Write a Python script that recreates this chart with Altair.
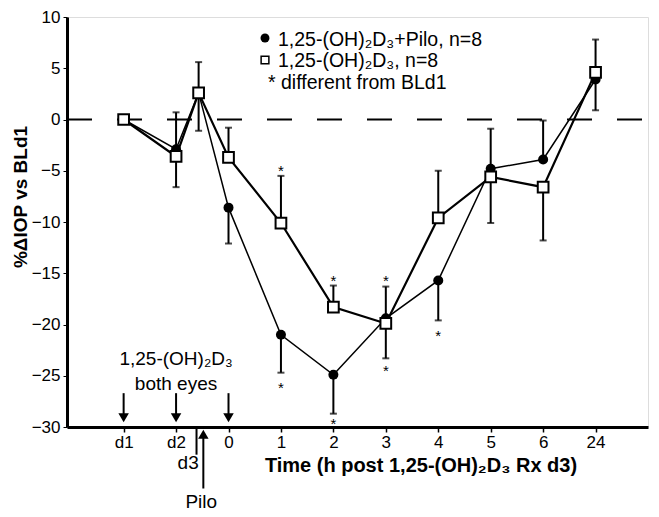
import altair as alt
import pandas as pd

FONT = "Liberation Sans"

# x positions / tick labels
tick_pos = [-2, -1, 0, 1, 2, 3, 4, 5, 6, 7]
tick_text = ["d1", "d2", "0", "1", "2", "3", "4", "5", "6", "24"]

# data points (x position on the time axis)
pt_x = [-2, -1, -0.57, 0, 1, 2, 3, 4, 5, 6, 7]
pilo_y = [0, -2.9, 2.6, -8.6, -21.0, -24.9, -19.4, -15.7, -4.8, -3.9, 3.9]
d3_y = [0, -3.6, 2.6, -3.7, -10.1, -18.3, -19.9, -9.6, -5.6, -6.6, 4.6]

# error bars (one segment each)
err_x = [-1, -0.57, 0, 0, 1, 1, 2, 2, 3, 4, 4, 5, 6, 6, 7]
err_lo = [-6.6, -1.1, -3.7, -12.1, -10.1, -24.7, -18.3, -28.7, -23.3, -9.6, -19.6, -10.1, -3.9, -11.8, 0.9]
err_hi = [0.7, 5.6, -0.8, -8.6, -5.5, -21.0, -16.2, -24.9, -16.3, -5.0, -15.7, -0.9, -0.1, -6.6, 7.8]

# significance asterisks
star_x = [1, 1, 2, 2, 3, 3, 4]
star_y = [-4.6, -25.8, -15.4, -29.3, -15.4, -24.1, -20.7]

# dosing arrows (1,25-(OH)2D3 both eyes)
dose_x = [-2, -1, 0]

W, H = 581, 410
XD = [-3.08, 8.0]
YD = [-30, 10]

xs = alt.Scale(domain=XD, nice=False, zero=False)
ys = alt.Scale(domain=YD, nice=False, zero=False)

pts = pd.DataFrame({"x": pt_x, "pilo": pilo_y, "d3": d3_y})
err = pd.DataFrame({"x": err_x, "lo": err_lo, "hi": err_hi})
caps = pd.DataFrame({"x": err_x + err_x, "y": err_lo + err_hi})
stars = pd.DataFrame({"x": star_x, "y": star_y, "t": ["*"] * len(star_x)})

label_expr = " : ".join(
    f"datum.value == {p} ? '{t}'" for p, t in zip(tick_pos, tick_text)
) + " : ''"

X = alt.X("x:Q", scale=xs, axis=alt.Axis(
    values=tick_pos, labelExpr=label_expr, title=None, grid=False,
    labelFontSize=17, labelFont=FONT, labelColor="black",
    tickSize=5, tickWidth=1.5, tickColor="black", labelPadding=2,
    domainColor="black", domainWidth=3, labelFlush=False))
Y = alt.Y("y:Q", scale=ys, axis=alt.Axis(
    values=list(range(-30, 11, 5)), title=None, grid=False,
    labelFontSize=17, labelFont=FONT, labelColor="black",
    tickSize=4, tickWidth=1, tickColor="black", labelPadding=3,
    domainColor="black", domainWidth=3))

base = alt.Chart(pts)

zero = alt.Chart(pd.DataFrame({"x": [XD[0]], "x2": [XD[1]], "y": [0]})).mark_rule(
    color="black", strokeWidth=2, strokeDash=[25, 25]).encode(x=X, x2="x2:Q", y=Y)

bars = alt.Chart(err).mark_rule(color="black", strokeWidth=2).encode(
    x=alt.X("x:Q", scale=xs), y=alt.Y("lo:Q", scale=ys), y2="hi:Q")
capm = alt.Chart(caps).mark_tick(color="black", orient="horizontal", size=7, thickness=2).encode(
    x=alt.X("x:Q", scale=xs), y=alt.Y("y:Q", scale=ys))

line_pilo = base.mark_line(color="black", strokeWidth=1.5).encode(
    x=alt.X("x:Q", scale=xs), y=alt.Y("pilo:Q", scale=ys))
line_d3 = base.mark_line(color="black", strokeWidth=2.2).encode(
    x=alt.X("x:Q", scale=xs), y=alt.Y("d3:Q", scale=ys))
pt_pilo = base.mark_point(shape="circle", filled=True, color="black", size=100, opacity=1).encode(
    x=alt.X("x:Q", scale=xs), y=alt.Y("pilo:Q", scale=ys))
pt_d3 = base.mark_point(shape="square", filled=True, fill="white", stroke="black",
                        strokeWidth=2, size=115, opacity=1).encode(
    x=alt.X("x:Q", scale=xs), y=alt.Y("d3:Q", scale=ys))

star = alt.Chart(stars).mark_text(font=FONT, fontSize=15, color="black", baseline="alphabetic", dy=9).encode(
    x=alt.X("x:Q", scale=xs), y=alt.Y("y:Q", scale=ys), text="t:N")

# dosing arrows
dose = pd.DataFrame({"x": dose_x, "y1": [-26.7] * 3, "y2": [-28.8] * 3, "yh": [-29.1] * 3})
dose_rule = alt.Chart(dose).mark_rule(color="black", strokeWidth=2).encode(
    x=alt.X("x:Q", scale=xs), y=alt.Y("y1:Q", scale=ys), y2="y2:Q")
dose_head = alt.Chart(dose).mark_point(shape="triangle-down", filled=True, color="black",
                                       size=110, opacity=1).encode(
    x=alt.X("x:Q", scale=xs), y=alt.Y("yh:Q", scale=ys))

# Pilo arrow and d3 marker below axis
pilo_arrow = pd.DataFrame({"x": [-0.48], "y1": [-30.9], "y2": [-36.0], "yh": [-30.7]})
pilo_rule = alt.Chart(pilo_arrow).mark_rule(color="black", strokeWidth=2).encode(
    x=alt.X("x:Q", scale=xs), y=alt.Y("y1:Q", scale=ys), y2="y2:Q")
pilo_head = alt.Chart(pilo_arrow).mark_point(shape="triangle-up", filled=True, color="black",
                                             size=110, opacity=1).encode(
    x=alt.X("x:Q", scale=xs), y=alt.Y("yh:Q", scale=ys))
d3tick = alt.Chart(pd.DataFrame({"x": [-0.61], "y1": [-30], "y2": [-32.7]})).mark_rule(
    color="black", strokeWidth=2).encode(x=alt.X("x:Q", scale=xs), y=alt.Y("y1:Q", scale=ys), y2="y2:Q")

notes = pd.DataFrame({
    "x": [-1.0, -1.0, -0.77, -0.52],
    "y": [-23.4, -25.8, -33.5, -37.3],
    "t": ["1,25-(OH)₂D₃", "both eyes", "d3", "Pilo"],
})
note_txt = alt.Chart(notes).mark_text(font=FONT, fontSize=19, color="black", baseline="middle").encode(
    x=alt.X("x:Q", scale=xs), y=alt.Y("y:Q", scale=ys), text="t:N")

# legend (decoration)
leg_pt = alt.Chart(pd.DataFrame({"a": [0]})).mark_point(
    shape="circle", filled=True, color="black", size=80, opacity=1).encode(
    x=alt.value(198), y=alt.value(21))
leg_sq = alt.Chart(pd.DataFrame({"a": [0]})).mark_point(
    shape="square", filled=True, fill="white", stroke="black", strokeWidth=1.5, size=60, opacity=1).encode(
    x=alt.value(198), y=alt.value(43))
leg_txt = alt.Chart(pd.DataFrame({
    "t": ["1,25-(OH)₂D₃+Pilo, n=8", "1,25-(OH)₂D₃, n=8", "* different from BLd1"],
    "x": [211, 211, 201], "y": [23, 44, 66]})).mark_text(
    font=FONT, fontSize=19.5, color="black", align="left", baseline="middle").encode(
    x=alt.X("x:Q", scale=None), y=alt.Y("y:Q", scale=None), text="t:N")

xtitle = alt.Chart(pd.DataFrame({"t": ["Time (h post 1,25-(OH)₂D₃ Rx d3)"]})).mark_text(
    font=FONT, fontSize=20, fontWeight="bold", color="black", baseline="middle").encode(
    x=alt.value(354), y=alt.value(449), text="t:N")
ytitle = alt.Chart(pd.DataFrame({"t": ["%ΔIOP vs BLd1"]})).mark_text(
    font=FONT, fontSize=19, fontWeight="bold", color="black", baseline="middle", angle=270).encode(
    x=alt.value(-46), y=alt.value(180), text="t:N")

axes = alt.Chart(pd.DataFrame({"x": [0], "y": [0]})).mark_point(opacity=0).encode(x=X, y=Y)

chart = alt.layer(
    axes, zero, bars, capm, line_pilo, line_d3, pt_pilo, pt_d3, star,
    dose_rule, dose_head, pilo_rule, pilo_head, d3tick, note_txt,
    leg_pt, leg_sq, leg_txt, xtitle, ytitle
).properties(
    width=W, height=H,
    autosize=alt.AutoSizeParams(type="none"),
    padding={"left": 59, "top": 9, "right": 3, "bottom": 90},
).configure_view(stroke="black", strokeWidth=3).configure(background="white")

chart.save("out.html", embed_options={"renderer": "svg", "actions": False})
